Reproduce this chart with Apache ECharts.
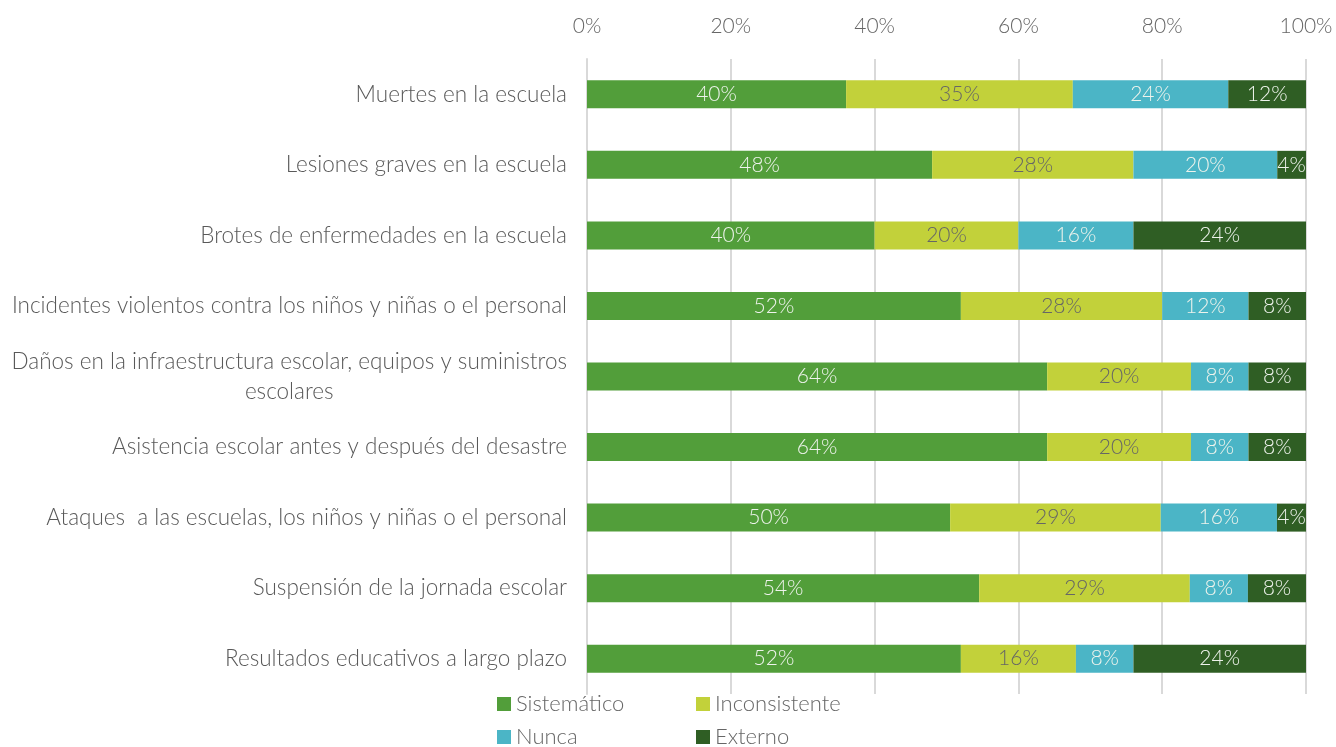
<!DOCTYPE html>
<html>
<head>
	<meta charset="utf-8">
	<script src="https://cdn.jsdelivr.net/npm/echarts@6/dist/echarts.min.js"></script>
	<style>body{margin:0;background:#fff;}</style>
</head>
<body>
	<div id="main" style="width: 1336px; height: 747px;"></div>
<script type="text/javascript">
        var categories = [
            'Muertes en la escuela',
            'Lesiones graves en la escuela',
            'Brotes de enfermedades en la escuela',
            'Incidentes violentos contra los niños y niñas o el personal',
            'Daños en la infraestructura escolar, equipos y suministros\nescolares',
            'Asistencia escolar antes y después del desastre',
            'Ataques  a las escuelas, los niños y niñas o el personal',
            'Suspensión de la jornada escolar',
            'Resultados educativos a largo plazo'
        ];
        var sistematico   = [40, 48, 40, 52, 64, 64, 50, 54, 52];
        var inconsistente = [35, 28, 20, 28, 20, 20, 29, 29, 16];
        var nunca         = [24, 20, 16, 12, 8, 8, 16, 8, 8];
        var externo       = [12, 4, 24, 8, 8, 8, 4, 8, 24];
        var xTicks = [0, 20, 40, 60, 80, 100];

        var FONT = 'Lato';
        var raw = [sistematico, inconsistente, nunca, externo];
        var names = ['Sistemático', 'Inconsistente', 'Nunca', 'Externo'];
        var colors = ['#529e3a', '#c2d13a', '#4bb5c6', '#2f5e24'];
        var labelColors = ['#eef3ec', '#666666', '#eef3ec', '#eef3ec'];

        // filas al 100 %: la barra se normaliza, la etiqueta muestra el valor leído
        var totals = categories.map(function (c, i) {
            return raw.reduce(function (s, arr) { return s + arr[i]; }, 0);
        });

        var series = raw.map(function (arr, k) {
            return {
                name: names[k],
                type: 'bar',
                stack: 'total',
                barWidth: 28,
                itemStyle: { color: colors[k] },
                label: {
                    show: true,
                    position: 'inside',
                    color: labelColors[k],
                    fontFamily: FONT,
                    fontWeight: 300,
                    fontSize: 21,
                    formatter: function (p) { return arr[p.dataIndex] + '%'; }
                },
                data: arr.map(function (v, i) { return v / totals[i] * 100; })
            };
        });

        var legendText = { color: '#666', fontSize: 22, fontWeight: 300, fontFamily: FONT, lineHeight: 22 };
        var myChart = echarts.init(document.getElementById('main'));
        var option = {
            backgroundColor: '#fff',
            animation: false,
            textStyle: { fontFamily: FONT },
            grid: { left: 587, right: 30, top: 59, height: 635 },
            legend: [{
                orient: 'vertical', left: 492, top: 688, height: 120,
                itemWidth: 14, itemHeight: 14, itemGap: 11,
                icon: 'rect',
                textStyle: legendText,
                data: ['Sistemático', 'Nunca']
            }, {
                orient: 'vertical', left: 691, top: 688, height: 120,
                itemWidth: 14, itemHeight: 14, itemGap: 11,
                icon: 'rect',
                textStyle: legendText,
                data: ['Inconsistente', 'Externo']
            }],
            xAxis: {
                type: 'value',
                position: 'top',
                min: xTicks[0],
                max: xTicks[xTicks.length - 1],
                interval: 20,
                axisLine: { show: false },
                axisTick: { show: false },
                axisLabel: {
                    color: '#666', fontSize: 21, fontWeight: 300, margin: 22, fontFamily: FONT,
                    formatter: '{value}%'
                },
                splitLine: { lineStyle: { color: '#d9d9d9', width: 2 } }
            },
            yAxis: {
                type: 'category',
                inverse: true,
                data: categories,
                axisLine: { lineStyle: { color: '#d9d9d9', width: 2 } },
                axisTick: { show: false },
                axisLabel: {
                    color: '#595959', fontSize: 22.5, fontWeight: 300, margin: 20, fontFamily: FONT,
                    lineHeight: 30,
                    formatter: function (v) { return '{c|' + v + '}'; },
                    rich: { c: { align: 'center', color: '#595959', fontSize: 22.5, fontWeight: 300, lineHeight: 30, fontFamily: FONT } }
                }
            },
            series: series
        };
        myChart.setOption(option);
    </script>
</body>
</html>
